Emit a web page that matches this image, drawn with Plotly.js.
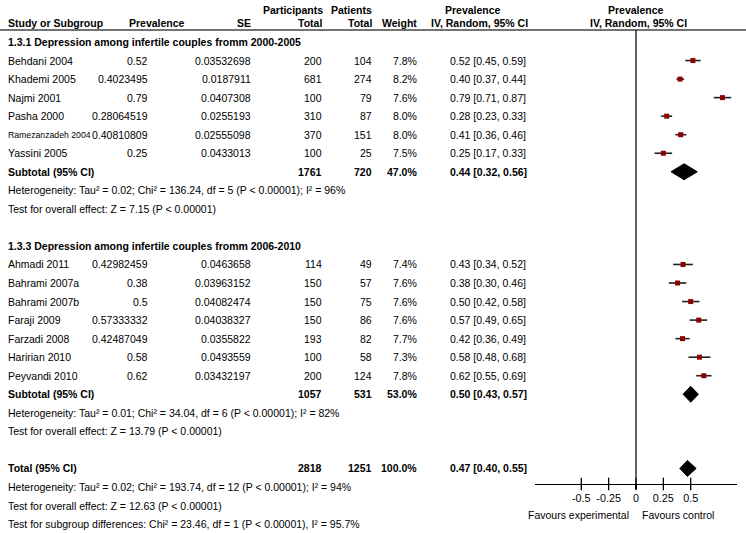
<!DOCTYPE html>
<html>
<head>
<meta charset="utf-8">
<script src="https://cdn.plot.ly/plotly-3.0.1.min.js"></script>
<style>
  html, body { margin: 0; padding: 0; background: #fff; }
  #chart { width: 746px; height: 533px; }
</style>
</head>
<body>
<div id="chart"></div>
<script>
// --- data ---
const groupTitles = [
  "1.3.1 Depression among infertile couples fromm 2000-2005",
  "1.3.3 Depression among infertile couples fromm 2006-2010"
];
const studyNames = [
  "Behdani 2004", "Khademi 2005", "Najmi 2001", "Pasha 2000", "Ramezanzadeh 2004", "Yassini 2005",
  "Ahmadi 2011", "Bahrami 2007a", "Bahrami 2007b", "Faraji 2009", "Farzadi 2008", "Haririan 2010", "Peyvandi 2010"
];
const studyGroup = [0, 0, 0, 0, 0, 0, 1, 1, 1, 1, 1, 1, 1];
const prevalence = [0.52, 0.4023495, 0.79, 0.28064519, 0.40810809, 0.25,
  0.42982459, 0.38, 0.5, 0.57333332, 0.42487049, 0.58, 0.62];
const seValues = [0.03532698, 0.0187911, 0.0407308, 0.0255193, 0.02555098, 0.0433013,
  0.0463658, 0.03963152, 0.04082474, 0.04038327, 0.0355822, 0.0493559, 0.03432197];
const participants = [200, 681, 100, 310, 370, 100, 114, 150, 150, 150, 193, 100, 200];
const patients = [104, 274, 79, 87, 151, 25, 49, 57, 75, 86, 82, 58, 124];
const weights = [7.8, 8.2, 7.6, 8.0, 8.0, 7.5, 7.4, 7.6, 7.6, 7.6, 7.7, 7.3, 7.8];
const ciLow = [0.45, 0.37, 0.71, 0.23, 0.36, 0.17, 0.34, 0.30, 0.42, 0.49, 0.36, 0.48, 0.55];
const ciHigh = [0.59, 0.44, 0.87, 0.33, 0.46, 0.33, 0.52, 0.46, 0.58, 0.65, 0.49, 0.68, 0.69];

const subtotalEst = [0.44, 0.50];
const subtotalLow = [0.32, 0.43];
const subtotalHigh = [0.56, 0.57];
const subtotalParticipants = [1761, 1057];
const subtotalPatients = [720, 531];
const subtotalWeight = [47.0, 53.0];
const heterogeneityText = [
  "Heterogeneity: Tau² = 0.02; Chi² = 136.24, df = 5 (P < 0.00001); I² = 96%",
  "Heterogeneity: Tau² = 0.01; Chi² = 34.04, df = 6 (P < 0.00001); I² = 82%"
];
const overallText = [
  "Test for overall effect: Z = 7.15 (P < 0.00001)",
  "Test for overall effect: Z = 13.79 (P < 0.00001)"
];

const totalEst = [0.47];
const totalLow = [0.40];
const totalHigh = [0.55];
const totalParticipants = 2818;
const totalPatients = 1251;
const totalWeight = 100.0;
const totalHeterogeneity = "Heterogeneity: Tau² = 0.02; Chi² = 193.74, df = 12 (P < 0.00001); I² = 94%";
const totalOverall = "Test for overall effect: Z = 12.63 (P < 0.00001)";
const subgroupDiff = "Test for subgroup differences: Chi² = 23.46, df = 1 (P < 0.00001), I² = 95.7%";

const tickVals = [-0.5, -0.25, 0, 0.25, 0.5];
const tickText = ["-0.5", "-0.25", "0", "0.25", "0.5"];

// --- layout helpers (pixel columns -> paper fractions) ---
const W = 746, H = 533;
const ROW0 = 42, PITCH = 18.54;           // row 0 centre and row pitch in px
const rowOf = (px) => (px - ROW0) / PITCH;
const px = (x) => x / W;
const FONT = "Arial, 'Liberation Sans', sans-serif";
const FS = 10.5;

const col = { study: 8, prev: 148, se: 251, part: 322, pat: 372, weight: 417, ci: 450 };
const axisRow = rowOf(484);
const ruleRow = rowOf(30);

const annotations = [];
function txt(text, x, row, anchor, bold, size) {
  annotations.push({
    text: bold ? "<b>" + text + "</b>" : text,
    xref: "paper", yref: "y", x: px(x), y: row,
    xanchor: anchor, yanchor: "middle", showarrow: false,
    borderpad: 0, borderwidth: 0,
    font: { family: FONT, size: size || FS, color: "#000" }
  });
}
const ciLabel = (e, l, h) => e.toFixed(2) + " [" + l.toFixed(2) + ", " + h.toFixed(2) + "]";

// header
const h1 = rowOf(10), h2 = rowOf(23);
txt("Participants", 323, h1, "right", true);
txt("Patients", 372, h1, "right", true);
txt("Prevalence", 473, h1, "center", true);
txt("Prevalence", 636, h1, "center", true);
txt("Study or Subgroup", col.study, h2, "left", true);
txt("Prevalence", 157, h2, "center", true);
txt("SE", col.se, h2, "right", true);
txt("Total", col.part, h2, "right", true);
txt("Total", col.pat, h2, "right", true);
txt("Weight", col.weight, h2, "right", true);
txt("IV, Random, 95% CI", 479, h2, "center", true);
txt("IV, Random, 95% CI", 638, h2, "center", true);

// body rows
const studyRow = [];
const subRow = [];
let r = 0;
groupTitles.forEach((title, g) => {
  txt(title, col.study, r, "left", true);
  r++;
  studyNames.forEach((name, i) => {
    if (studyGroup[i] !== g) return;
    studyRow[i] = r;
    // the one long name gets a smaller size so it clears the prevalence value
    txt(name, col.study, r, "left", false, name.length > 14 ? 8.7 : FS);
    txt(String(prevalence[i]), col.prev, r, "right");
    txt(String(seValues[i]), col.se, r, "right");
    txt(String(participants[i]), col.part, r, "right");
    txt(String(patients[i]), col.pat, r, "right");
    txt(weights[i].toFixed(1) + "%", col.weight, r, "right");
    txt(ciLabel(prevalence[i], ciLow[i], ciHigh[i]), col.ci, r, "left");
    r++;
  });
  subRow[g] = r;
  txt("Subtotal (95% CI)", col.study, r, "left", true);
  txt(String(subtotalParticipants[g]), col.part, r, "right", true);
  txt(String(subtotalPatients[g]), col.pat, r, "right", true);
  txt(subtotalWeight[g].toFixed(1) + "%", col.weight, r, "right", true);
  txt(ciLabel(subtotalEst[g], subtotalLow[g], subtotalHigh[g]), col.ci, r, "left", true);
  r++;
  txt(heterogeneityText[g], col.study, r, "left");
  r++;
  txt(overallText[g], col.study, r, "left");
  r += 2;
});
const totalRow = r;
txt("Total (95% CI)", col.study, r, "left", true);
txt(String(totalParticipants), col.part, r, "right", true);
txt(String(totalPatients), col.pat, r, "right", true);
txt(totalWeight.toFixed(1) + "%", col.weight, r, "right", true);
txt(ciLabel(totalEst[0], totalLow[0], totalHigh[0]), col.ci, r, "left", true);
txt(totalHeterogeneity, col.study, r + 1, "left");
txt(totalOverall, col.study, r + 2, "left");
txt(subgroupDiff, col.study, r + 3, "left");

txt("Favours experimental", 629, rowOf(515), "right");
txt("Favours control", 642, rowOf(515), "left");

// --- traces ---
const studies = {
  type: "scatter", mode: "markers", xaxis: "x2", yaxis: "y",
  x: prevalence, y: studyRow,
  marker: { symbol: "square", size: 5, color: "#8b0000" },
  error_x: {
    type: "data", symmetric: false,
    array: prevalence.map((v, i) => ciHigh[i] - v),
    arrayminus: prevalence.map((v, i) => v - ciLow[i]),
    width: 0, thickness: 1.6, color: "#222"
  },
  hoverinfo: "skip", cliponaxis: false
};

function diamond(est, lo, hi, row) {
  const hh = 0.43;
  return {
    type: "scatter", mode: "lines", xaxis: "x2", yaxis: "y",
    x: [lo, est, hi, est, lo], y: [row, row - hh, row, row + hh, row],
    fill: "toself", fillcolor: "#000", line: { color: "#000", width: 1 },
    hoverinfo: "skip"
  };
}
const diamonds = subtotalEst.map((e, g) => diamond(e, subtotalLow[g], subtotalHigh[g], subRow[g]));
diamonds.push(diamond(totalEst[0], totalLow[0], totalHigh[0], totalRow));

const tickMarks = {
  type: "scatter", mode: "markers", xaxis: "x2", yaxis: "y",
  x: tickVals, y: tickVals.map(() => axisRow),
  marker: { symbol: "line-ns", size: 9, line: { width: 1.3, color: "#000" } },
  hoverinfo: "skip", cliponaxis: false
};

const layout = {
  width: W, height: H,
  margin: { l: 0, r: 0, t: 0, b: 0 },
  paper_bgcolor: "#fff", plot_bgcolor: "rgba(0,0,0,0)",
  showlegend: false,
  font: { family: FONT, size: FS, color: "#000" },
  xaxis2: {
    domain: [px(535), px(737)], range: [-0.923, 0.923],
    anchor: "free", position: 49 / H,
    showgrid: false, zeroline: false,
    showline: true, linecolor: "#000", linewidth: 1.2,
    ticks: "outside", ticklen: 4, tickwidth: 1.3, tickcolor: "#000",
    tickmode: "array", tickvals: tickVals, ticktext: tickText,
    tickfont: { family: FONT, size: 10.8, color: "#000" }
  },
  yaxis: {
    domain: [0, 1], range: [rowOf(H), rowOf(0)], anchor: "x2",
    visible: false, showgrid: false, zeroline: false
  },
  shapes: [
    { type: "line", xref: "paper", yref: "y", x0: 0, x1: 1, y0: ruleRow, y1: ruleRow,
      line: { color: "#444", width: 1.5 } },
    { type: "line", xref: "x2", yref: "y", x0: 0, x1: 0, y0: ruleRow, y1: axisRow,
      line: { color: "#111", width: 1.3 } }
  ],
  annotations: annotations
};

Plotly.newPlot("chart", [studies, ...diamonds, tickMarks], layout, { staticPlot: true, displayModeBar: false });
</script>
</body>
</html>
